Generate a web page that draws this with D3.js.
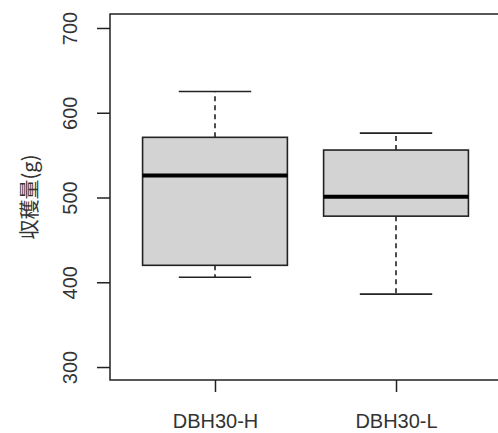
<!DOCTYPE html>
<html>
<head>
<meta charset="utf-8">
<script src="https://cdn.jsdelivr.net/npm/d3@7"></script>
<style>
    html, body { margin: 0; padding: 0; background: #fff; }
    svg { display: block; }
</style>
</head>
<body>
<div id="chart"></div>
<script>
    // data
    const groups   = ["DBH30-H", "DBH30-L"];
    const whiskLo  = [406, 386];
    const q1       = [420, 478];
    const medians  = [526, 501];
    const q3       = [571, 556];
    const whiskHi  = [625, 576];
    const yTicks   = [300, 400, 500, 600, 700];
    const Y_LABEL  = "収穫量(g)";

    const WIDTH = 498, HEIGHT = 433;
    const LINE = "#222";
    const FONT = "'Liberation Sans', Arial, sans-serif";

    const svg = d3.select("#chart").append("svg")
        .attr("width", WIDTH)
        .attr("height", HEIGHT);

    // plot frame (right edge falls just outside the picture, as in the reference)
    const frame = { left: 110, right: 501, top: 14, bottom: 380 };

    const xScale = d3.scaleLinear().domain([0.42, 2.58]).range([frame.left, frame.right]);
    const yScale = d3.scaleLinear().domain([284.7, 716.5]).range([frame.bottom, frame.top]);

    const BOX_HALF = 0.4;   // boxwex 0.8
    const CAP_HALF = 0.2;

    // boxes
    const boxes = groups.map((g, i) => ({
        name: g, pos: i + 1,
        lo: whiskLo[i], q1: q1[i], med: medians[i], q3: q3[i], hi: whiskHi[i]
    }));

    const gBox = svg.append("g");

    // whiskers (dashed)
    gBox.selectAll(".whisk")
        .data(boxes.flatMap(d => [[d.pos, d.q3, d.hi], [d.pos, d.q1, d.lo]]))
        .enter().append("line")
        .attr("x1", d => xScale(d[0]))
        .attr("x2", d => xScale(d[0]))
        .attr("y1", d => yScale(d[1]))
        .attr("y2", d => yScale(d[2]))
        .style("stroke", LINE)
        .style("stroke-width", 1.6)
        .style("stroke-dasharray", "5,4");

    // whisker caps
    gBox.selectAll(".cap")
        .data(boxes.flatMap(d => [[d.pos, d.hi], [d.pos, d.lo]]))
        .enter().append("line")
        .attr("x1", d => xScale(d[0] - CAP_HALF))
        .attr("x2", d => xScale(d[0] + CAP_HALF))
        .attr("y1", d => yScale(d[1]))
        .attr("y2", d => yScale(d[1]))
        .style("stroke", LINE)
        .style("stroke-width", 1.6);

    // box body
    gBox.selectAll(".box")
        .data(boxes)
        .enter().append("rect")
        .attr("x", d => xScale(d.pos - BOX_HALF))
        .attr("width", d => xScale(d.pos + BOX_HALF) - xScale(d.pos - BOX_HALF))
        .attr("y", d => yScale(d.q3))
        .attr("height", d => yScale(d.q1) - yScale(d.q3))
        .style("fill", "#d3d3d3")
        .style("stroke", LINE)
        .style("stroke-width", 1.6);

    // medians
    gBox.selectAll(".median")
        .data(boxes)
        .enter().append("line")
        .attr("x1", d => xScale(d.pos - BOX_HALF))
        .attr("x2", d => xScale(d.pos + BOX_HALF))
        .attr("y1", d => yScale(d.med))
        .attr("y2", d => yScale(d.med))
        .style("stroke", "#000")
        .style("stroke-width", 4);

    // frame
    svg.append("rect")
        .attr("x", frame.left)
        .attr("y", frame.top)
        .attr("width", frame.right - frame.left)
        .attr("height", frame.bottom - frame.top)
        .style("fill", "none")
        .style("stroke", LINE)
        .style("stroke-width", 1.5);

    // y-axis: ticks and rotated labels
    const yAxis = d3.axisLeft(yScale)
        .tickValues(yTicks)
        .tickSize(13)
        .tickPadding(20)
        .tickFormat(d3.format("d"));

    const gy = svg.append("g")
        .attr("transform", `translate(${frame.left},0)`)
        .call(yAxis);
    gy.select(".domain").remove();
    gy.selectAll(".tick line").style("stroke", LINE).style("stroke-width", 1.5);
    gy.selectAll(".tick text")
        .attr("x", null).attr("dy", null)
        .attr("transform", "translate(-33,0) rotate(-90)")
        .attr("text-anchor", "middle")
        .style("font-family", FONT)
        .style("font-size", "20px")
        .style("fill", "#333");

    // x-axis: ticks and labels
    const xAxis = d3.axisBottom(xScale)
        .tickValues(boxes.map(d => d.pos))
        .tickSize(12)
        .tickPadding(0)
        .tickFormat((d, i) => groups[i]);

    const gx = svg.append("g")
        .attr("transform", `translate(0,${frame.bottom})`)
        .call(xAxis);
    gx.select(".domain").remove();
    gx.selectAll(".tick line").style("stroke", LINE).style("stroke-width", 1.5);
    gx.selectAll(".tick text")
        .attr("y", 48).attr("dy", null)
        .style("font-family", FONT)
        .style("font-size", "20px")
        .style("fill", "#333");

    // y-label
    svg.append("text")
        .attr("transform", `translate(37,${(frame.top + frame.bottom) / 2}) rotate(-90)`)
        .attr("text-anchor", "middle")
        .style("font-family", "'Noto Sans CJK JP', 'Liberation Sans', sans-serif")
        .style("font-size", "20px")
        .style("fill", "#333")
        .text(Y_LABEL);
</script>
</body>
</html>
